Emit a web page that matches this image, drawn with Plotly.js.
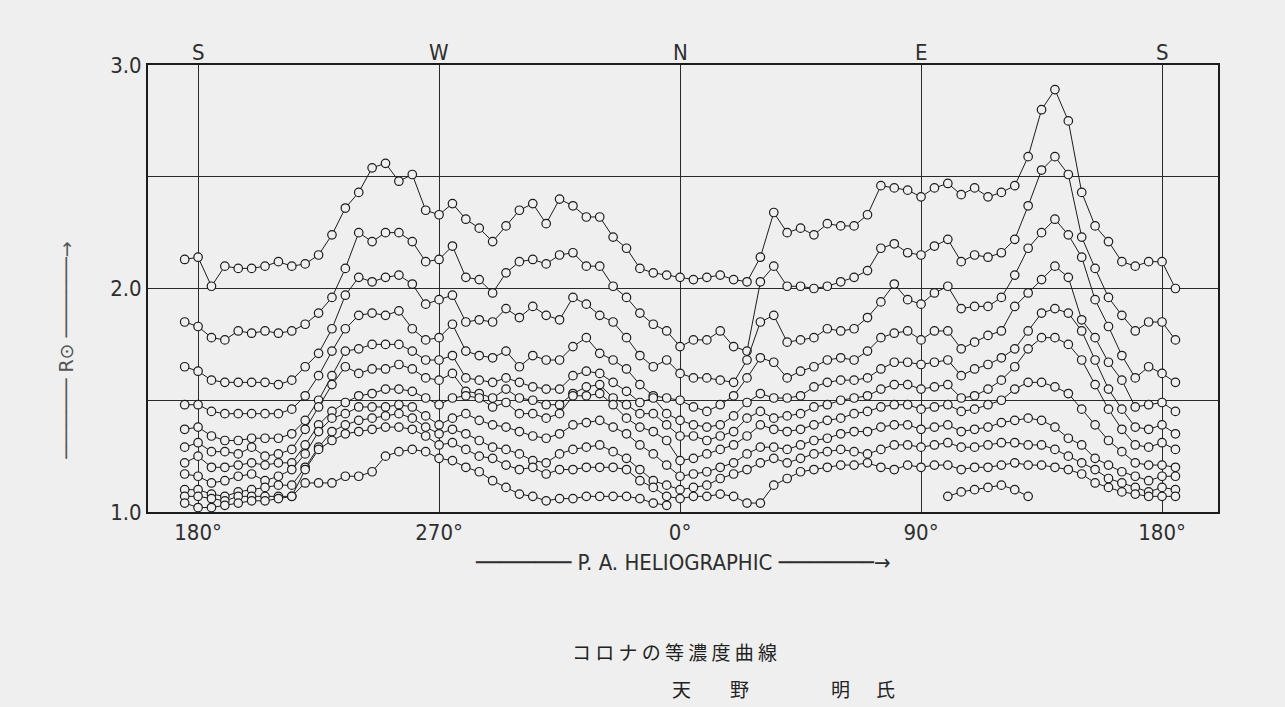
<!DOCTYPE html>
<html>
<head>
<meta charset="utf-8">
<script src="https://cdn.plot.ly/plotly-3.0.1.min.js"></script>
<style>
  html, body { margin: 0; padding: 0; background: #efefef; }
  #chart { width: 1285px; height: 707px; }
</style>
</head>
<body>
<div id="chart"></div>
<script>
// Position angle (heliographic), degrees; 360 = N (0°), 540 = S again
const angleDeg = [175,180,185,190,195,200,205,210,215,220,
  225,230,235,240,245,250,255,260,265,270,
  275,280,285,290,295,300,305,310,315,320,
  325,330,335,340,345,350,355,360,365,370,
  375,380,385,390,395,400,405,410,415,420,
  425,430,435,440,445,450,455,460,465,470,
  475,480,485,490,495,500,505,510,515,520,
  525,530,535,540,545];

const tickVals = [180, 270, 360, 450, 540];
const tickLabels = ['180°', '270°', '0°', '90°', '180°'];
const compassLabels = ['S', 'W', 'N', 'E', 'S'];
const yTickVals = [1.0, 1.5, 2.0, 2.5, 3.0];
const yTickLabels = ['1.0', '', '2.0', '', '3.0'];
const captionTitle = 'コ ロ ナ の 等 濃 度 曲 線';
const authorChars = ['天', '野', '明', '氏'];

// Isophote curves, R (solar radii)
const curve1 = [2.13,2.14,2.01,2.10,2.09,2.09,2.10,2.12,2.10,2.11,
  2.15,2.24,2.36,2.43,2.54,2.56,2.48,2.51,2.35,2.33,
  2.38,2.31,2.27,2.21,2.28,2.35,2.38,2.29,2.40,2.37,
  2.32,2.32,2.23,2.18,2.09,2.07,2.06,2.05,2.04,2.05,
  2.06,2.04,2.03,2.14,2.34,2.25,2.27,2.24,2.29,2.28,
  2.28,2.33,2.46,2.45,2.44,2.41,2.45,2.47,2.42,2.45,
  2.41,2.43,2.46,2.59,2.80,2.89,2.75,2.43,2.28,2.21,
  2.12,2.10,2.12,2.12,2.00];
const curve2 = [1.85,1.83,1.78,1.77,1.81,1.80,1.81,1.80,1.81,1.84,
  1.89,1.96,2.09,2.25,2.21,2.25,2.25,2.21,2.12,2.13,
  2.19,2.05,2.04,1.98,2.07,2.12,2.13,2.11,2.15,2.16,
  2.10,2.10,2.01,1.96,1.89,1.84,1.81,1.74,1.77,1.77,
  1.81,1.74,1.72,2.03,2.10,2.01,2.01,2.00,2.01,2.03,
  2.05,2.08,2.18,2.20,2.16,2.15,2.19,2.22,2.12,2.15,
  2.14,2.16,2.22,2.37,2.53,2.59,2.51,2.23,2.09,1.96,
  1.88,1.81,1.85,1.85,1.77];
const curve3 = [1.65,1.63,1.59,1.58,1.58,1.58,1.58,1.57,1.59,1.65,
  1.71,1.82,1.97,2.05,2.03,2.05,2.06,2.02,1.93,1.95,
  1.97,1.85,1.86,1.85,1.91,1.87,1.92,1.88,1.86,1.96,
  1.93,1.88,1.85,1.78,1.70,1.65,1.68,1.62,1.60,1.60,
  1.59,1.58,1.68,1.85,1.88,1.76,1.77,1.78,1.82,1.81,
  1.82,1.87,1.94,2.02,1.95,1.93,1.98,2.01,1.91,1.92,
  1.92,1.96,2.06,2.18,2.25,2.31,2.24,2.14,1.95,1.83,
  1.70,1.60,1.65,1.62,1.58];
const curve4 = [1.48,1.48,1.45,1.44,1.44,1.44,1.44,1.44,1.46,1.52,
  1.61,1.72,1.82,1.88,1.89,1.88,1.90,1.82,1.77,1.78,
  1.84,1.72,1.70,1.69,1.72,1.65,1.70,1.68,1.68,1.74,
  1.78,1.71,1.68,1.64,1.57,1.52,1.51,1.50,1.47,1.45,
  1.48,1.52,1.60,1.69,1.67,1.60,1.63,1.65,1.68,1.69,
  1.68,1.72,1.78,1.80,1.81,1.77,1.81,1.81,1.73,1.76,
  1.79,1.81,1.92,1.98,2.04,2.10,2.05,1.86,1.78,1.67,
  1.59,1.47,1.48,1.49,1.45];
const curve5 = [1.37,1.38,1.34,1.32,1.32,1.33,1.33,1.33,1.35,1.41,
  1.50,1.61,1.72,1.73,1.75,1.75,1.75,1.72,1.68,1.68,
  1.70,1.60,1.59,1.58,1.60,1.58,1.56,1.55,1.55,1.61,
  1.63,1.62,1.58,1.54,1.49,1.51,1.44,1.41,1.39,1.38,
  1.39,1.43,1.49,1.53,1.51,1.51,1.52,1.56,1.58,1.59,
  1.59,1.60,1.64,1.67,1.67,1.66,1.67,1.68,1.61,1.64,
  1.66,1.69,1.73,1.81,1.89,1.91,1.89,1.81,1.68,1.55,
  1.46,1.38,1.37,1.39,1.35];
const curve6 = [1.29,1.31,1.27,1.27,1.26,1.29,1.25,1.26,1.28,1.37,
  1.47,1.57,1.65,1.62,1.64,1.64,1.66,1.64,1.60,1.59,
  1.62,1.54,1.53,1.51,1.55,1.51,1.50,1.48,1.48,1.53,
  1.56,1.57,1.51,1.48,1.44,1.44,1.39,1.34,1.34,1.32,
  1.34,1.36,1.42,1.45,1.42,1.43,1.44,1.47,1.48,1.50,
  1.51,1.52,1.55,1.57,1.57,1.55,1.56,1.57,1.51,1.52,
  1.55,1.59,1.65,1.73,1.78,1.78,1.75,1.68,1.57,1.46,
  1.37,1.30,1.29,1.31,1.28];
const curve7 = [1.22,1.25,1.20,1.20,1.21,1.22,1.21,1.22,1.22,1.30,
  1.39,1.45,1.49,1.52,1.53,1.55,1.55,1.54,1.51,1.48,
  1.51,1.52,1.51,1.47,1.49,1.44,1.44,1.42,1.44,1.52,
  1.52,1.53,1.48,1.42,1.38,1.36,1.32,1.23,1.24,1.26,
  1.28,1.30,1.34,1.39,1.37,1.36,1.37,1.39,1.41,1.42,
  1.44,1.45,1.47,1.48,1.48,1.46,1.47,1.48,1.45,1.46,
  1.48,1.50,1.55,1.58,1.58,1.56,1.53,1.46,1.39,1.32,
  1.27,1.22,1.21,1.21,1.20];
const curve8 = [1.17,1.16,1.13,1.14,1.16,1.17,1.14,1.16,1.19,1.26,
  1.36,1.42,1.44,1.47,1.47,1.47,1.48,1.47,1.43,1.39,
  1.42,1.44,1.41,1.39,1.38,1.36,1.34,1.33,1.35,1.39,
  1.40,1.41,1.38,1.35,1.30,1.26,1.21,1.16,1.17,1.18,
  1.20,1.22,1.26,1.29,1.29,1.28,1.30,1.32,1.33,1.35,
  1.36,1.36,1.38,1.39,1.39,1.37,1.38,1.39,1.36,1.37,
  1.38,1.40,1.41,1.42,1.41,1.38,1.33,1.30,1.24,1.21,
  1.18,1.16,1.14,1.16,1.16];
const curve9 = [1.10,1.10,1.08,1.07,1.09,1.10,1.11,1.12,1.12,1.20,
  1.29,1.36,1.39,1.41,1.42,1.43,1.44,1.42,1.38,1.35,
  1.37,1.35,1.32,1.29,1.28,1.26,1.23,1.22,1.26,1.28,
  1.29,1.30,1.27,1.24,1.19,1.14,1.12,1.10,1.11,1.12,
  1.15,1.17,1.19,1.22,1.24,1.22,1.24,1.26,1.27,1.28,
  1.27,1.26,1.28,1.30,1.30,1.29,1.30,1.31,1.29,1.29,
  1.30,1.31,1.31,1.30,1.30,1.28,1.25,1.22,1.19,1.15,
  1.13,1.11,1.09,1.11,1.10];
const curve10 = [1.07,1.07,1.06,1.05,1.07,1.07,1.07,1.07,1.07,1.19,
  1.28,1.32,1.35,1.36,1.37,1.38,1.38,1.37,1.34,1.30,
  1.31,1.28,1.25,1.24,1.21,1.19,1.20,1.17,1.19,1.19,
  1.20,1.20,1.20,1.19,1.14,1.11,1.07,1.06,1.07,1.07,
  1.08,1.07,1.04,1.04,1.12,1.15,1.18,1.19,1.20,1.21,
  1.21,1.22,1.20,1.19,1.21,1.20,1.21,1.21,1.19,1.20,
  1.20,1.21,1.22,1.21,1.21,1.20,1.19,1.17,1.13,1.11,
  1.09,1.08,1.07,1.07,1.07];
const curve11 = [1.04,1.02,1.02,1.03,1.04,1.05,1.05,1.06,1.07,1.13,
  1.13,1.13,1.16,1.16,1.18,1.25,1.27,1.28,1.27,1.24,
  1.23,1.20,1.18,1.14,1.11,1.08,1.07,1.05,1.06,1.06,
  1.07,1.07,1.07,1.07,1.06,1.04,1.03,null,null,null,
  null,null,null,null,null,null,null,null,null,null,
  null,null,null,null,null,null,null,1.07,1.09,1.10,
  1.11,1.12,1.10,1.07,null,null,null,null,null,null,
  null,null,null,null,null];

const curves = [curve1, curve2, curve3, curve4, curve5, curve6,
                curve7, curve8, curve9, curve10, curve11];

const INK = '#1c1c1c';
const PAPER = '#efefef';

const traces = curves.map(vals => ({
  type: 'scatter',
  mode: 'lines+markers',
  x: angleDeg,
  y: vals,
  connectgaps: false,
  cliponaxis: false,
  line: { color: INK, width: 1 },
  marker: { symbol: 'circle', size: 8.5, color: PAPER, line: { color: INK, width: 1.2 } },
  hoverinfo: 'skip',
  showlegend: false
}));

const labelFamily = 'Liberation Sans Narrow, DejaVu Sans Condensed, Liberation Sans, sans-serif';
const labelFont = { family: labelFamily, size: 22, color: '#2e2e2e' };

const annotations = [];
compassLabels.forEach((t, i) => {
  annotations.push({
    x: tickVals[i], xref: 'x', y: 1, yref: 'paper',
    yanchor: 'bottom', xanchor: 'center', yshift: -2,
    text: t, showarrow: false, font: labelFont
  });
});
annotations.push({
  x: 0.5, xref: 'paper', y: -0.114, yref: 'paper',
  xanchor: 'center', yanchor: 'middle', showarrow: false,
  text: '──────── P. A. HELIOGRAPHIC ────────→',
  font: { family: labelFamily, size: 22, color: '#2e2e2e' }
});
annotations.push({
  x: -0.077, xref: 'paper', y: 0.36, yref: 'paper',
  xanchor: 'center', yanchor: 'middle', showarrow: false, textangle: -90,
  text: '─────── R⊙ ───────→',
  font: { family: 'DejaVu Sans, sans-serif', size: 19, color: '#555' }
});
annotations.push({
  x: 0.4925, xref: 'paper', y: -0.313, yref: 'paper',
  xanchor: 'center', yanchor: 'middle', showarrow: false,
  text: captionTitle,
  font: { family: 'Noto Sans CJK JP, sans-serif', size: 19, color: '#222' }
});
const authorX = [0.499, 0.553, 0.647, 0.689];
authorChars.forEach((c, i) => {
  annotations.push({
    x: authorX[i], xref: 'paper', y: -0.394, yref: 'paper',
    xanchor: 'center', yanchor: 'middle', showarrow: false,
    text: c,
    font: { family: 'Noto Sans CJK JP, sans-serif', size: 19, color: '#222' }
  });
});

const layout = {
  width: 1285, height: 707,
  margin: { l: 148, r: 67, t: 65, b: 195, pad: 0 },
  paper_bgcolor: PAPER, plot_bgcolor: PAPER,
  showlegend: false,
  xaxis: {
    range: [161.3, 560.9], tickvals: tickVals, ticktext: tickLabels,
    showgrid: true, gridcolor: '#2a2a2a', gridwidth: 1,
    zeroline: false, showline: true, mirror: true, linecolor: INK, linewidth: 2,
    ticks: '', tickfont: labelFont, fixedrange: true
  },
  yaxis: {
    range: [1.0, 3.0], tickvals: yTickVals, ticktext: yTickLabels,
    showgrid: true, gridcolor: '#2a2a2a', gridwidth: 1,
    zeroline: false, showline: true, mirror: true, linecolor: INK, linewidth: 2,
    ticks: '', tickfont: labelFont, fixedrange: true
  },
  annotations: annotations
};

Plotly.newPlot('chart', traces, layout, { staticPlot: true, displayModeBar: false });
</script>
</body>
</html>
